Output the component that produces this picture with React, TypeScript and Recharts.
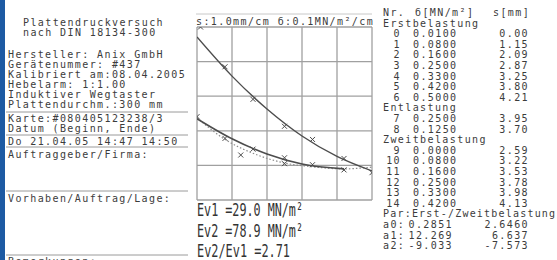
import React from 'react';
import { ComposedChart, Line, Scatter, XAxis, YAxis, CartesianGrid } from 'recharts';

// measured points (table on the right)
const sigmaErst = [0.01, 0.08, 0.16, 0.25, 0.33, 0.42, 0.5];
const sErst = [0.0, 1.15, 2.09, 2.87, 3.25, 3.8, 4.21];
const sigmaEnt = [0.25, 0.125];
const sEnt = [3.95, 3.7];
const sigmaZweit = [0.0, 0.08, 0.16, 0.25, 0.33, 0.42];
const sZweit = [2.59, 3.22, 3.53, 3.78, 3.98, 4.13];

// curves
const erstCurveSigma = [0, 0.1, 0.2, 0.3, 0.4, 0.5];
const erstCurveS = [0.29, 1.42, 2.37, 3.15, 3.74, 4.16];
const zweitCurveSigma = [0, 0.1, 0.2, 0.3, 0.42];
const zweitCurveS = [2.65, 3.23, 3.67, 3.96, 4.1];
const dotCurveSigma = [0, 0.08, 0.16, 0.25, 0.33, 0.42, 0.5];
const dotCurveS = [2.62, 3.25, 3.65, 3.93, 4.04, 4.1, 4.05];

const sigmaTicks = [0, 0.1, 0.2, 0.3, 0.4, 0.5];
const sTicks = [0, 1, 2, 3, 4, 5];

const paramNames = ['a0', 'a1', 'a2'];
const paramErst = ['0.2851', '12.269', '-9.033'];
const paramZweit = ['2.6460', '6.637', '-7.573'];

const infoLines = [
  'Hersteller: Anix GmbH',
  'Gerätenummer: #437',
  'Kalibriert am:08.04.2005',
  'Hebelarm: 1:1.00',
  'Induktiver Wegtaster',
  'Plattendurchm.:300 mm',
];

const evLines = ['Ev1 =29.0 MN/m²', 'Ev2 =78.9 MN/m²', 'Ev2/Ev1 =2.71'];

const toPts = (xs: number[], ys: number[]) => xs.map((x, i) => ({ sigma: x, s: ys[i] }));

const INK = '#3c3c3c';
const RULE = '#9a9a9a';
const mono = { fontFamily: '"DejaVu Sans Mono", monospace', fontSize: 10, letterSpacing: 1.4, fill: INK };

const T = ({ x, y, children, anchor, spacing }: any) => (
  <text
    x={x}
    y={y}
    textAnchor={anchor || 'start'}
    style={{ ...(mono as any), letterSpacing: spacing ?? mono.letterSpacing }}
  >
    {children}
  </text>
);

const Cross = (props: any) => {
  const { cx, cy } = props;
  if (cx == null || cy == null) return null;
  const r = 2.5;
  return (
    <path
      d={`M${cx - r},${cy - r}L${cx + r},${cy + r}M${cx - r},${cy + r}L${cx + r},${cy - r}`}
      stroke="#4a4a4a"
      strokeWidth={1}
    />
  );
};

export default function App() {
  const fmt2 = (v: number) => v.toFixed(2);
  const fmt4 = (v: number) => v.toFixed(4);
  const rowH = 10.6;
  const rowY = (i: number) => 16 + rowH * i;

  const tableRows: any[] = [];
  let r = 0;
  tableRows.push(<T key="hdr1" x={383} y={rowY(r)}>Nr.</T>);
  tableRows.push(<T key="hdr2" x={415} y={rowY(r)}>б[MN/m²]</T>);
  tableRows.push(<T key="hdr3" x={493} y={rowY(r)}>s[mm]</T>);
  r++;
  const section = (title: string, xs: number[], ys: number[], start: number) => {
    tableRows.push(<T key={title} x={383} y={rowY(r)}>{title}</T>);
    r++;
    xs.forEach((x, i) => {
      const y = rowY(r);
      tableRows.push(<T key={title + 'n' + i} x={401} y={y} anchor="end">{start + i}</T>);
      tableRows.push(<T key={title + 'x' + i} x={413} y={y}>{fmt4(x)}</T>);
      tableRows.push(<T key={title + 's' + i} x={529} y={y} anchor="end">{fmt2(ys[i])}</T>);
      r++;
    });
  };
  section('Erstbelastung', sigmaErst, sErst, 0);
  section('Entlastung', sigmaEnt, sEnt, 7);
  section('Zweitbelastung', sigmaZweit, sZweit, 9);
  tableRows.push(<T key="par" x={383} y={rowY(r)} spacing={1.2}>Par:Erst-/Zweitbelastung</T>);
  r++;
  paramNames.forEach((p, i) => {
    const y = rowY(r);
    tableRows.push(<T key={p} x={383} y={y}>{p}:</T>);
    tableRows.push(<T key={p + 'e'} x={453} y={y} anchor="end">{paramErst[i]}</T>);
    tableRows.push(<T key={p + 'z'} x={529} y={y} anchor="end">{paramZweit[i]}</T>);
    r++;
  });

  const leftRules = [112, 135, 147, 191, 255];

  return (
    <div style={{ position: 'absolute', left: 0, top: 0, width: 557, height: 260, background: '#ffffff', overflow: 'hidden' }}>
      <svg width={557} height={260} style={{ position: 'absolute', left: 0, top: 0 }}>
        <rect x={0} y={0} width={5} height={260} fill="#1d5aa3" />
        {leftRules.map((y) => (
          <line key={y} x1={6} x2={188} y1={y} y2={y} stroke={RULE} strokeWidth={1} />
        ))}
        <line x1={196} x2={372} y1={14} y2={14} stroke="#c8c8c8" strokeWidth={1} />

        <T x={23} y={26}>Plattendruckversuch</T>
        <T x={23} y={36}>nach DIN 18134-300</T>
        {infoLines.map((l, i) => (
          <T key={l} x={8} y={58 + i * 10}>{l}</T>
        ))}
        <T x={8} y={122}>Karte:#080405123238/3</T>
        <T x={8} y={132}>Datum (Beginn, Ende)</T>
        <T x={8} y={145}>Do 21.04.05 14:47 14:50</T>
        <T x={8} y={158}>Auftraggeber/Firma:</T>
        <T x={8} y={202}>Vorhaben/Auftrag/Lage:</T>
        <T x={8} y={265}>Bemerkungen:</T>

        <T x={196} y={25}>s:1.0mm/cm б:0.1MN/m²/cm</T>

        {evLines.map((l, i) => (
          <text
            key={l}
            x={197}
            y={216 + i * 20.5}
            textLength={i < 2 ? 106 : 93}
            lengthAdjust="spacingAndGlyphs"
            style={{ fontFamily: '"DejaVu Sans Mono", monospace', fontSize: 18.5, fill: '#333' }}
          >
            {l}
          </text>
        ))}

        {tableRows}
      </svg>

      <div style={{ position: 'absolute', left: 0, top: 0 }}>
        <ComposedChart width={557} height={260} margin={{ top: 27, left: 197, right: 185, bottom: 60 }}>
          <CartesianGrid stroke="#a0a0a0" strokeWidth={1.3} />
          <XAxis type="number" dataKey="sigma" domain={[0, 0.5]} ticks={sigmaTicks} hide allowDataOverflow />
          <YAxis type="number" dataKey="s" domain={[0, 5]} ticks={sTicks} reversed hide allowDataOverflow />
          <Line
            data={toPts(dotCurveSigma, dotCurveS)}
            dataKey="s"
            type="monotone"
            stroke="#8c8c8c"
            strokeWidth={1.2}
            strokeDasharray="1.5 2"
            dot={false}
            isAnimationActive={false}
          />
          <Line
            data={toPts(erstCurveSigma, erstCurveS)}
            dataKey="s"
            type="monotone"
            stroke="#4d4d4d"
            strokeWidth={1.4}
            dot={false}
            isAnimationActive={false}
          />
          <Line
            data={toPts(zweitCurveSigma, zweitCurveS)}
            dataKey="s"
            type="monotone"
            stroke="#4d4d4d"
            strokeWidth={1.6}
            dot={false}
            isAnimationActive={false}
          />
          <Scatter data={toPts(sigmaErst, sErst)} dataKey="s" shape={Cross} isAnimationActive={false} />
          <Scatter data={toPts(sigmaEnt, sEnt)} dataKey="s" shape={Cross} isAnimationActive={false} />
          <Scatter data={toPts(sigmaZweit, sZweit)} dataKey="s" shape={Cross} isAnimationActive={false} />
        </ComposedChart>
      </div>
    </div>
  );
}
